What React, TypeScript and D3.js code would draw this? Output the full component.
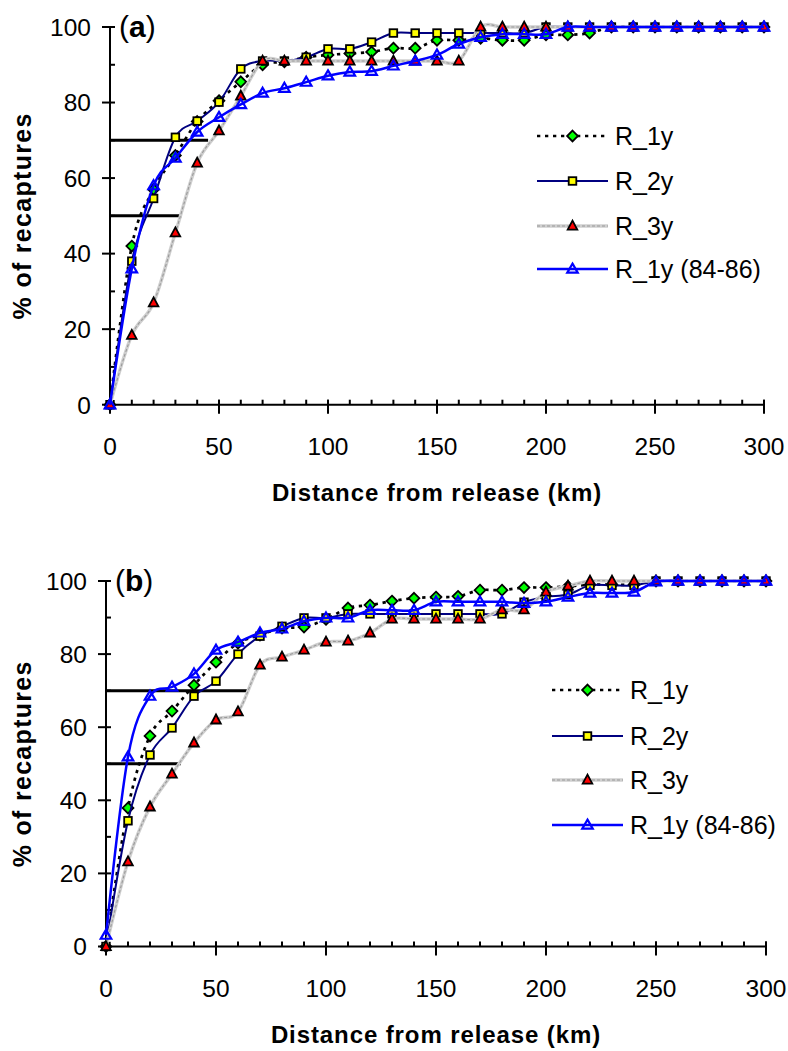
import React from "react";
import * as d3 from "d3";

// ---------- DATA ----------
const distances = [0, 10, 20, 30, 40, 50, 60, 70, 80, 90, 100, 110, 120, 130, 140, 150, 160, 170, 180, 190, 200, 210, 220, 230, 240, 250, 260, 270, 280, 290, 300];
const seriesNames = ["R_1y", "R_2y", "R_3y", "R_1y (84-86)"];
const xTicks = [0, 50, 100, 150, 200, 250, 300];
const yTicks = [0, 20, 40, 60, 80, 100];

// Panel (a)
const aR1y = [0, 42, 57, 66, 75, 80.5, 85.5, 90, 90.8, 92, 92.6, 93, 93.4, 94.4, 94.4, 96.5, 96.5, 97, 96.5, 96.5, 97.9, 97.9, 98.4, 100, 100, 100, 100, 100, 100, 100, 100];
const aR2y = [0, 38, 54.6, 70.8, 75.1, 80.1, 88.9, 91, 91, 92, 94.2, 94.2, 96, 98.4, 98.4, 98.4, 98.4, 98.4, 98.4, 98.4, 100, 100, 100, 100, 100, 100, 100, 100, 100, 100, 100];
const aR3y = [0, 18.4, 27, 45.5, 64, 72.5, 81.7, 91, 91, 91, 91, 91, 91, 91, 91, 91, 91, 100, 100, 100, 100, 100, 100, 100, 100, 100, 100, 100, 100, 100, 100];
const aR1y8486 = [0, 36, 58, 65.3, 72.2, 76.1, 79.5, 82.5, 83.8, 85.4, 87.1, 88.1, 88.3, 89.7, 91, 92.6, 95.5, 97.3, 98.1, 98.1, 98.1, 100, 100, 100, 100, 100, 100, 100, 100, 100, 100];
const aRefPct = [70, 50];
const aRefTo = [45, 33];

// Panel (b)
const bR1y = [0, 37.9, 57.6, 64.4, 71.5, 77.8, 83, 85.2, 87.1, 87.4, 89.5, 92.6, 93.4, 94.5, 95.3, 95.6, 95.8, 97.5, 97.5, 98.2, 98.2, 98.5, 99, 99, 99, 100, 100, 100, 100, 100, 100];
const bR2y = [0, 34.4, 52.4, 59.8, 68.5, 72.6, 80, 84.9, 87.6, 89.9, 89.9, 91, 91, 91, 91, 91, 91, 91, 91, 94.2, 95.7, 96.3, 98.8, 98.8, 98.8, 100, 100, 100, 100, 100, 100];
const bR3y = [0, 23.2, 38.2, 47.2, 55.7, 62, 64.2, 77, 79.2, 81.1, 83.3, 83.6, 85.8, 89.6, 89.6, 89.6, 89.6, 89.6, 92.1, 92.1, 97, 98.6, 100, 100, 100, 100, 100, 100, 100, 100, 100];
const bR1y8486 = [3.1, 51.9, 68.5, 71, 74.6, 81.1, 83.3, 85.8, 86.9, 89, 89.9, 89.9, 92, 92, 92, 94.3, 94.3, 94.3, 94.3, 93.9, 94.3, 95.6, 96.7, 96.7, 97, 99.8, 100, 100, 100, 100, 100];
const bRefPct = [70, 50];
const bRefTo = [65, 34];

// ---------- STYLE ----------
const FONT = "'Liberation Sans', Arial, Helvetica, sans-serif";
type MarkerType = "diamond" | "square" | "triRed" | "triBlue";
const markerTypes: MarkerType[] = ["diamond", "square", "triRed", "triBlue"];

function Marker({ type, x, y }: { type: MarkerType; x: number; y: number }) {
  if (type === "diamond") {
    const r = 5.4;
    return <path d={`M${x},${y - r}L${x + r},${y}L${x},${y + r}L${x - r},${y}Z`} fill="#00ff00" stroke="#000" strokeWidth={1.8} />;
  }
  if (type === "square") {
    const s = 7.6;
    return <rect x={x - s / 2} y={y - s / 2} width={s} height={s} fill="#ffff00" stroke="#000" strokeWidth={1.8} />;
  }
  if (type === "triRed") {
    const w = 9.6, h = 9;
    return <path d={`M${x},${y - h * 0.6}L${x + w / 2},${y + h * 0.4}L${x - w / 2},${y + h * 0.4}Z`} fill="#ff0000" stroke="#000" strokeWidth={1.8} />;
  }
  const w = 10.5, h = 9;
  return <path d={`M${x},${y - h * 0.6}L${x + w / 2},${y + h * 0.4}L${x - w / 2},${y + h * 0.4}Z`} fill="none" stroke="#0000ff" strokeWidth={2.2} />;
}

function SeriesLine({ d, idx }: { d: string; idx: number }) {
  if (idx === 0) return <path d={d} fill="none" stroke="#000" strokeWidth={2.7} strokeDasharray="3.3 4.7" />;
  if (idx === 1) return <path d={d} fill="none" stroke="#000080" strokeWidth={2} />;
  if (idx === 2)
    return (
      <g>
        <path d={d} fill="none" stroke="#cfcfcf" strokeWidth={3.4} />
        <path d={d} fill="none" stroke="#9a9a9a" strokeWidth={1.1} strokeDasharray="3 2" />
      </g>
    );
  return <path d={d} fill="none" stroke="#0000ff" strokeWidth={2.5} />;
}

interface PanelProps {
  letter: string;
  series: number[][];
  refPct: number[];
  refTo: number[];
  x0: number; x1: number; yBottom: number; yTop: number;
  legX0: number; legX1: number; legYs: number[];
}

function Panel(p: PanelProps) {
  const x = d3.scaleLinear().domain([0, 300]).range([p.x0, p.x1]);
  const y = d3.scaleLinear().domain([0, 100]).range([p.yBottom, p.yTop]);
  const line = d3
    .line<number>()
    .x((_, i) => x(distances[i]))
    .y((v) => y(v))
    .curve(d3.curveCardinal.tension(0));
  const minorX = d3.range(0, 301, 10);
  const minorY = [10, 30, 50, 70, 90];
  const cy = (p.yBottom + p.yTop) / 2;
  const cx = (p.x0 + p.x1) / 2;
  return (
    <g fontFamily={FONT}>
      {p.refPct.map((v, i) => (
        <line key={"r" + i} x1={x(0)} x2={x(p.refTo[i])} y1={y(v)} y2={y(v)} stroke="#000" strokeWidth={3} />
      ))}
      <line x1={x(0)} x2={x(0)} y1={y(0)} y2={y(100)} stroke="#000" strokeWidth={2} />
      <line x1={x(0)} x2={x(300)} y1={y(0)} y2={y(0)} stroke="#000" strokeWidth={2} />
      {yTicks.map((t) => (
        <g key={"yt" + t}>
          <line x1={x(0) - 8} x2={x(0) + 5} y1={y(t)} y2={y(t)} stroke="#000" strokeWidth={2} />
          <text x={x(0) - 19} y={y(t)} dy="0.36em" textAnchor="end" fontSize={24.5}>{t}</text>
        </g>
      ))}
      {minorY.map((t) => (
        <line key={"ym" + t} x1={x(0)} x2={x(0) + 5} y1={y(t)} y2={y(t)} stroke="#000" strokeWidth={2} />
      ))}
      {minorX.map((t) => (
        <line key={"xm" + t} x1={x(t)} x2={x(t)} y1={y(0)} y2={y(0) - 5} stroke="#000" strokeWidth={2} />
      ))}
      {xTicks.map((t) => (
        <g key={"xt" + t}>
          <line x1={x(t)} x2={x(t)} y1={y(0) - 5} y2={y(0) + 9} stroke="#000" strokeWidth={2} />
          <text x={x(t)} y={y(0) + 50} textAnchor="middle" fontSize={24.5}>{t}</text>
        </g>
      ))}
      {p.series.map((vals, si) => (
        <g key={"s" + si}>
          <SeriesLine d={line(vals) || ""} idx={si} />
          {vals.map((v, i) => (
            <Marker key={i} type={markerTypes[si]} x={x(distances[i])} y={y(v)} />
          ))}
        </g>
      ))}
      <text x={x(0) + 9} y={y(100) + 10} fontSize={30}>
        (<tspan fontWeight="bold">{p.letter}</tspan>)
      </text>
      <text x={cx} y={y(0) + 96} textAnchor="middle" fontSize={24} fontWeight="bold" letterSpacing={0.9}>
        Distance from release (km)
      </text>
      <text transform={`translate(31,${cy}) rotate(-90)`} textAnchor="middle" fontSize={25} fontWeight="bold" letterSpacing={1.3}>
        % of recaptures
      </text>
      {seriesNames.map((name, i) => (
        <g key={"l" + i}>
          <SeriesLine d={`M${p.legX0},${p.legYs[i]}L${p.legX1},${p.legYs[i]}`} idx={i} />
          <Marker type={markerTypes[i]} x={(p.legX0 + p.legX1) / 2} y={p.legYs[i]} />
          <text x={p.legX1 + 7} y={p.legYs[i]} dy="0.36em" fontSize={25}>{name}</text>
        </g>
      ))}
    </g>
  );
}

export default function App() {
  return (
    <svg width={788} height={1051} style={{ position: "absolute", left: 0, top: 0, background: "#fff" }}>
      <rect x={0} y={0} width={788} height={1051} fill="#fff" />
      <Panel
        letter="a"
        series={[aR1y, aR2y, aR3y, aR1y8486]}
        refPct={aRefPct}
        refTo={aRefTo}
        x0={110} x1={764} yBottom={404.7} yTop={27}
        legX0={537} legX1={608} legYs={[136, 181, 226, 269]}
      />
      <Panel
        letter="b"
        series={[bR1y, bR2y, bR3y, bR1y8486]}
        refPct={bRefPct}
        refTo={bRefTo}
        x0={106} x1={766} yBottom={946.5} yTop={581}
        legX0={552} legX1={623} legYs={[690, 736, 780, 825]}
      />
    </svg>
  );
}
